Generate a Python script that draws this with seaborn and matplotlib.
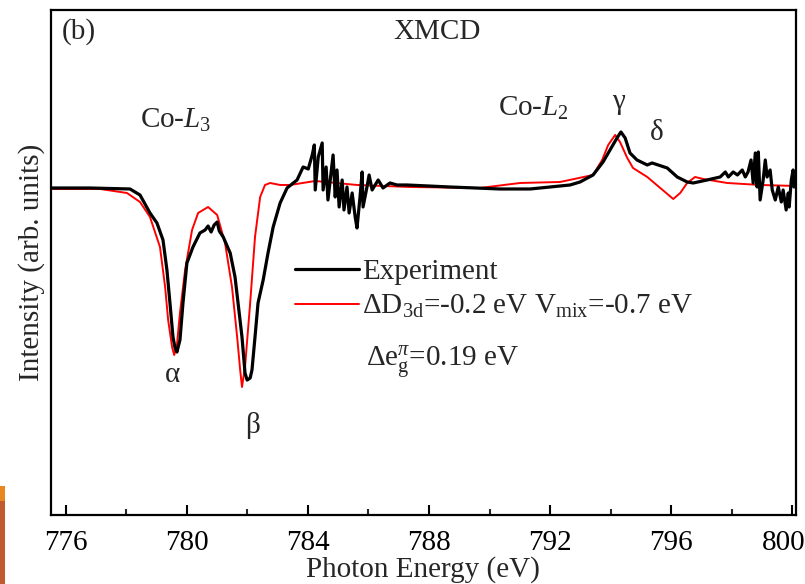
import numpy as np
import pandas as pd
import seaborn as sns
import matplotlib.pyplot as plt
from matplotlib.patches import Rectangle
from matplotlib.transforms import ScaledTranslation

# experiment (black)
exp_energy = [775.50, 776.80, 778.12, 778.45, 778.78, 779.01, 779.21, 779.34, 779.44, 779.54,
              779.61, 779.67, 779.77, 779.87, 780.00, 780.20, 780.43, 780.60, 780.70, 780.80,
              780.90, 781.00, 781.07, 781.20, 781.43, 781.59, 781.69, 781.82, 781.92, 781.99,
              782.09, 782.15, 782.25, 782.35, 782.52, 782.68, 782.85, 783.08, 783.31, 783.64,
              783.84, 784.01, 784.14, 784.21, 784.24, 784.34, 784.47, 784.50, 784.60, 784.66,
              784.83, 784.90, 784.96, 785.03, 785.13, 785.19, 785.29, 785.36, 785.46, 785.56,
              785.62, 785.72, 785.79, 785.82, 785.95, 786.02, 786.12, 786.32, 786.48, 786.71,
              786.94, 787.27, 788.69, 790.35, 791.34, 792.66, 792.99, 793.42, 793.75, 793.98,
              794.21, 794.34, 794.48, 794.64, 794.87, 795.21, 795.37, 795.57, 795.87, 796.20,
              796.53, 796.73, 797.19, 797.62, 797.79, 797.89, 798.05, 798.19, 798.35, 798.45,
              798.54, 798.64, 798.71, 798.78, 798.84, 798.88, 798.94, 799.04, 799.11, 799.17,
              799.27, 799.34, 799.44, 799.54, 799.64, 799.70, 799.80, 799.87, 799.90, 799.97,
              800.03, 800.06, 800.13]
exp_intensity = [-0.01, -0.01, -0.02, -0.08, -0.26, -0.36, -0.53, -0.83, -1.16, -1.50,
                 -1.61, -1.65, -1.53, -1.16, -0.76, -0.60, -0.46, -0.43, -0.39, -0.45,
                 -0.38, -0.35, -0.44, -0.50, -0.66, -0.90, -1.16, -1.50, -1.86, -1.93,
                 -1.91, -1.83, -1.50, -1.16, -0.93, -0.66, -0.40, -0.16, -0.01, 0.07,
                 0.20, 0.18, 0.32, 0.42, -0.03, 0.30, 0.44, -0.03, 0.20, -0.13,
                 0.32, -0.10, 0.17, -0.20, 0.07, -0.23, 0.00, -0.26, -0.06, -0.30,
                 -0.41, -0.10, 0.15, -0.20, 0.00, 0.12, -0.03, 0.07, -0.01, 0.04,
                 0.02, 0.02, 0.00, -0.02, -0.02, 0.02, 0.05, 0.12, 0.25, 0.37,
                 0.49, 0.55, 0.49, 0.34, 0.27, 0.22, 0.24, 0.22, 0.19, 0.10,
                 0.05, 0.04, 0.07, 0.10, 0.15, 0.10, 0.15, 0.12, 0.17, 0.10,
                 0.15, 0.27, 0.04, 0.34, 0.00, 0.35, -0.13, 0.07, 0.27, 0.10,
                 0.17, -0.03, -0.13, 0.00, -0.15, -0.03, -0.23, -0.06, -0.20, 0.07,
                 0.17, 0.00, 0.04]

# calculation (red)
calc_energy = [775.50, 777.13, 778.02, 778.45, 778.78, 779.11, 779.28, 779.38, 779.51, 779.58,
               779.67, 779.77, 779.94, 780.17, 780.37, 780.70, 781.00, 781.26, 781.49, 781.66,
               781.76, 781.82, 781.92, 782.09, 782.25, 782.42, 782.58, 782.75, 783.08, 783.41,
               784.24, 785.62, 787.37, 789.68, 791.01, 792.33, 793.42, 793.72, 793.92, 794.15,
               794.31, 794.55, 794.74, 795.21, 795.64, 796.07, 796.30, 796.53, 796.79, 797.06,
               797.85, 798.94, 800.13]
calc_intensity = [-0.02, -0.02, -0.06, -0.15, -0.30, -0.60, -1.00, -1.33, -1.60, -1.68,
                  -1.58, -1.26, -0.83, -0.43, -0.26, -0.20, -0.28, -0.56, -1.00, -1.50,
                  -1.83, -2.00, -1.80, -1.16, -0.50, -0.10, 0.02, 0.04, 0.02, 0.02,
                  0.06, 0.02, 0.00, -0.01, 0.04, 0.05, 0.12, 0.27, 0.42, 0.52,
                  0.45, 0.29, 0.19, 0.10, -0.01, -0.12, -0.06, 0.04, 0.10, 0.08,
                  0.04, 0.02, 0.01]

x_ticks = [776, 780, 784, 788, 792, 796, 800]

df_exp = pd.DataFrame({'energy': exp_energy, 'intensity': exp_intensity})
df_calc = pd.DataFrame({'energy': calc_energy, 'intensity': calc_intensity})

sns.set_theme(style='ticks')
plt.rcParams['font.family'] = ['Liberation Serif', 'DejaVu Serif']
plt.rcParams['mathtext.fontset'] = 'custom'
plt.rcParams['mathtext.rm'] = 'Liberation Serif'
plt.rcParams['mathtext.it'] = 'Liberation Serif:italic'
plt.rcParams['font.size'] = 21

fig, ax = plt.subplots(figsize=(8.05, 5.84), dpi=100)
fig.subplots_adjust(left=0.063, right=0.989, top=0.983, bottom=0.118)

sns.lineplot(data=df_exp, x='energy', y='intensity', color='black', lw=2.3,
             label='Experiment', ax=ax, zorder=3)
sns.lineplot(data=df_calc, x='energy', y='intensity', color='red', lw=1.4,
             label=r'$\Delta$D$_{\rm 3d}$=-0.2 eV V$_{\rm mix}$=-0.7 eV', ax=ax, zorder=2)

ax.set_xlim(775.5, 800.13)
ax.set_ylim(-3.28, 1.77)
ax.set_xticks(x_ticks)
ax.set_xticks(np.arange(778, 800, 4), minor=True)
ax.set_yticks([])
ax.tick_params(axis='x', which='major', direction='in', length=7, width=1.5,
               labelsize=21, pad=11, colors='black')
ax.tick_params(axis='x', which='minor', direction='in', length=4, width=1.5)
for s in ax.spines.values():
    s.set_linewidth(1.6)
    s.set_color('black')

# the last label sits a little left of its tick, as in the original
last = ax.get_xticklabels()[-1]
last.set_transform(last.get_transform() + ScaledTranslation(-9 / 100, 0, fig.dpi_scale_trans))

ax.set_xlabel('Photon Energy (eV)', fontsize=21, labelpad=0)
ax.set_ylabel('Intensity (arb. units)', fontsize=21, labelpad=4)

leg = ax.legend(loc='upper left', bbox_to_anchor=(0.312, 0.53), frameon=False,
                fontsize=21, handlelength=2.2, handletextpad=0.1, labelspacing=0.25,
                borderaxespad=0)

ax.text(775.85, 1.55, '(b)', ha='left', va='center', fontsize=21)
ax.text(788.27, 1.55, 'XMCD', ha='center', va='center', fontsize=21)
ax.text(779.64, 0.67, r'Co-$L_3$', ha='center', va='center', fontsize=21)
ax.text(791.44, 0.79, r'Co-$L_2$', ha='center', va='center', fontsize=21)
ax.text(794.25, 0.85, 'γ', ha='center', va='center', fontsize=21)
ax.text(795.51, 0.54, 'δ', ha='center', va='center', fontsize=21)
ax.text(779.52, -1.88, 'α', ha='center', va='center', fontsize=21)
ax.text(782.16, -2.38, 'β', ha='center', va='center', fontsize=21)
ax.text(785.93, -1.76, r'$\Delta$e$_{\rm g}^{\pi}$=0.19 eV', ha='left', va='center', fontsize=21)

# orange strip at the lower left edge of the original picture
fig.add_artist(Rectangle((0, 0), 5 / 805, 83 / 584, transform=fig.transFigure,
                         color='#c05a30', lw=0))
fig.add_artist(Rectangle((0, 83 / 584), 5 / 805, 15 / 584, transform=fig.transFigure,
                         color='#e8871e', lw=0))

fig.savefig('out.png', dpi=100)
